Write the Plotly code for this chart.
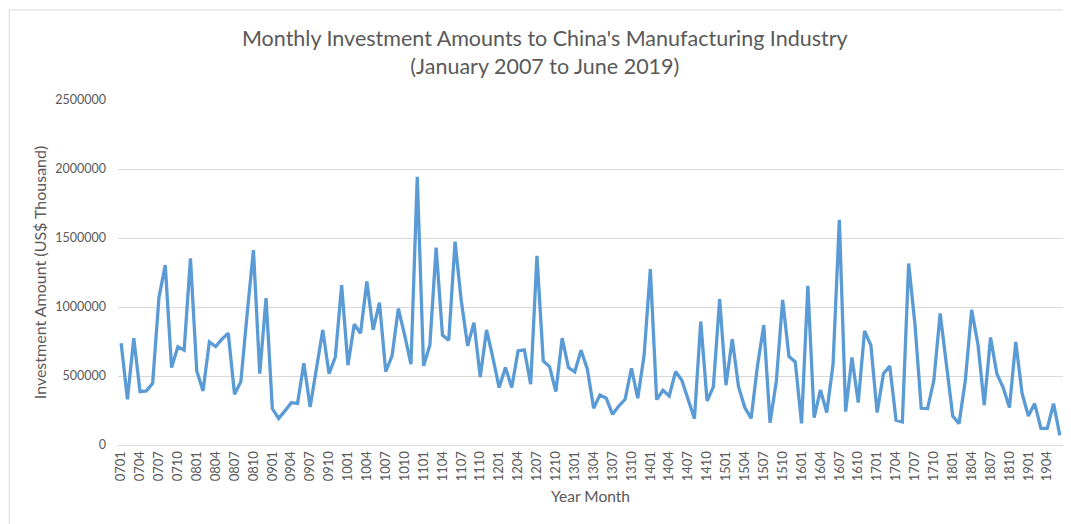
import plotly.graph_objects as go

# year-month labels, Jan 2007 .. Jun 2019
months = [f"{y:02d}{m:02d}" for y in range(7, 20) for m in range(1, 13)][:150]

# monthly investment, US$ thousand
investment = [
    737000, 331000, 774000, 387000, 392000, 447000, 1069000, 1303000, 561000, 711000, 687000, 1352000,   # 2007
    537000, 392000, 747000, 713000, 767000, 810000, 368000, 459000, 950000, 1412000, 517000, 1064000,    # 2008
    264000, 193000, 247000, 307000, 302000, 592000, 276000, 561000, 834000, 517000, 638000, 1158000,     # 2009
    578000, 875000, 810000, 1185000, 834000, 1032000, 532000, 646000, 989000, 796000, 585000, 1944000,   # 2010
    573000, 723000, 1431000, 796000, 759000, 1473000, 1040000, 718000, 887000, 493000, 834000, 634000,   # 2011
    416000, 561000, 416000, 682000, 689000, 440000, 1371000, 609000, 568000, 387000, 774000, 561000,     # 2012
    530000, 687000, 549000, 266000, 363000, 339000, 222000, 283000, 331000, 556000, 339000, 646000,      # 2013
    1274000, 329000, 397000, 355000, 532000, 469000, 324000, 191000, 895000, 319000, 421000, 1057000,    # 2014
    433000, 767000, 421000, 271000, 193000, 573000, 868000, 162000, 464000, 1052000, 641000, 602000,     # 2015
    157000, 1153000, 198000, 399000, 235000, 585000, 1632000, 242000, 634000, 307000, 827000, 723000,    # 2016
    235000, 517000, 573000, 179000, 167000, 1315000, 875000, 266000, 264000, 469000, 953000, 585000,     # 2017
    210000, 155000, 469000, 979000, 730000, 290000, 779000, 517000, 416000, 271000, 747000, 375000,      # 2018
    210000, 300000, 121000, 121000, 300000, 70000,                                                        # 2019
]

tick_labels = months[::3]
y_ticks = [0, 500000, 1000000, 1500000, 2000000, 2500000]

grey = "#595959"
font_family = "Lato, 'Open Sans', sans-serif"

# page body has an 8px margin, so the figure is 8px smaller than the window
fig = go.Figure()
fig.add_trace(
    go.Scatter(
        x = months,
        y = investment,
        mode = "lines",
        line = dict(color="#5B9BD5", width=3.3),
        showlegend = False
    )
)

fig.update_layout(
    width = 1063,
    height = 516,
    margin = dict(l=110, r=8, t=92, b=79),
    paper_bgcolor = "white",
    plot_bgcolor = "white",
    font = dict(family=font_family, color=grey),
    title = dict(
        text = "Monthly Investment Amounts to China's Manufacturing Industry<br>(January 2007 to June 2019)",
        x = 0.505, xanchor = "center",
        y = 0.927, yanchor = "middle",
        font = dict(size=21.5, color=grey)
    ),
    xaxis = dict(
        type = "category",
        range = [-0.5, 149.5],
        tickmode = "array",
        tickvals = tick_labels,
        ticktext = tick_labels,
        tickangle = -90,
        tickfont = dict(size=13, color=grey),
        showgrid = False,
        showline = True,
        linecolor = "#d9d9d9",
        linewidth = 1,
        ticks = "",
        title = dict(text="Year Month", font=dict(size=15.5, color=grey), standoff=10),
        fixedrange = True
    ),
    yaxis = dict(
        range = [0, 2500000],
        tickmode = "array",
        tickvals = y_ticks,
        ticktext = [str(v) for v in y_ticks],
        tickfont = dict(size=12.5, color=grey),
        showgrid = True,
        gridcolor = "#d9d9d9",
        gridwidth = 1,
        zeroline = False,
        ticks = "",
        ticklabelstandoff = 11,
        title = dict(text="Investment Amount (US$ Thousand)", font=dict(size=16, color=grey), standoff=4),
        fixedrange = True
    ),
    shapes = [
        dict(type="rect", xref="paper", yref="paper",
             x0=-0.115, x1=1.03, y0=-0.25, y1=1.261,
             line=dict(color="#d9d9d9", width=1), fillcolor="rgba(0,0,0,0)", layer="below")
    ]
)

fig.write_html("out.html")
